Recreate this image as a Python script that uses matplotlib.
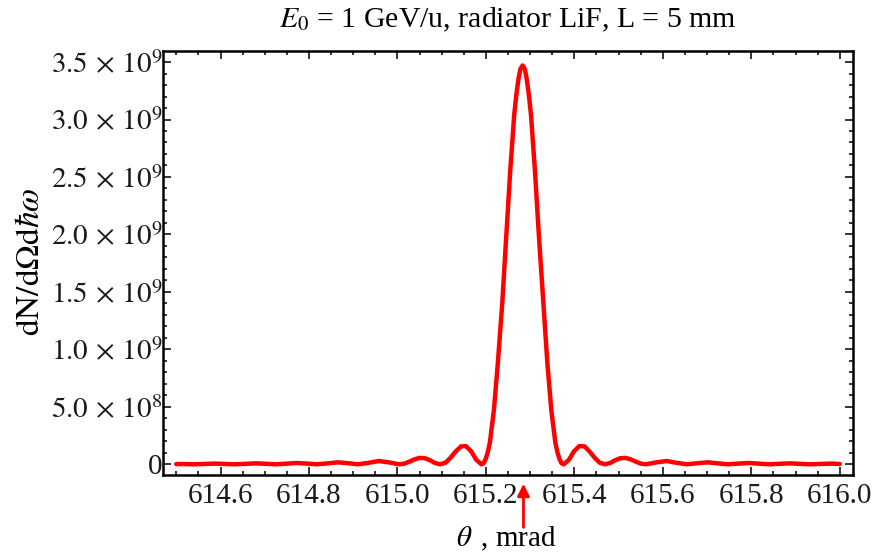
import matplotlib
matplotlib.use("Agg")
import matplotlib.pyplot as plt
from matplotlib.ticker import MultipleLocator, FixedLocator, FixedFormatter

plt.rcParams['font.family'] = ['Liberation Serif', 'DejaVu Serif']
plt.rcParams['mathtext.fontset'] = 'stix'

# угол излучения, mrad
theta = [
    614.500, 614.516, 614.539, 614.562, 614.586, 614.609, 614.632, 614.655,
    614.679, 614.702, 614.725, 614.748, 614.772, 614.795, 614.818, 614.841,
    614.865, 614.888, 614.911, 614.934, 614.958, 614.981, 615.004, 615.016,
    615.027, 615.039, 615.050, 615.062, 615.074, 615.085, 615.097, 615.109,
    615.120, 615.132, 615.144, 615.155, 615.167, 615.178, 615.190, 615.195,
    615.199, 615.204, 615.209, 615.213, 615.218, 615.227, 615.237, 615.246,
    615.255, 615.264, 615.269, 615.274, 615.278, 615.283, 615.288, 615.292,
    615.297, 615.302, 615.311, 615.320, 615.330, 615.339, 615.348, 615.353,
    615.357, 615.362, 615.367, 615.371, 615.376, 615.388, 615.399, 615.411,
    615.423, 615.434, 615.446, 615.457, 615.469, 615.481, 615.492, 615.504,
    615.516, 615.527, 615.539, 615.550, 615.562, 615.585, 615.609, 615.632,
    615.655, 615.678, 615.702, 615.725, 615.748, 615.771, 615.795, 615.818,
    615.841, 615.864, 615.888, 615.911, 615.934, 615.957, 615.981, 616.000,
]

# dN/dΩdħω, в единицах 1e9
intensity = [
    0.002, 0.0026, 0.0, 0.0029, 0.0062, 0.0033, 0.0, 0.0038,
    0.0083, 0.0045, 0.0, 0.0053, 0.0116, 0.0064, 0.0, 0.0078,
    0.0173, 0.0097, 0.0, 0.0125, 0.0286, 0.0166, 0.0, 0.0062,
    0.0232, 0.0434, 0.056, 0.053, 0.0346, 0.0114, 0.0, 0.0146,
    0.057, 0.113, 0.156, 0.158, 0.112, 0.0406, 0.0, 0.0095,
    0.041, 0.100, 0.189, 0.313, 0.468, 0.88, 1.40, 1.98,
    2.55, 3.04, 3.22, 3.36, 3.44, 3.47, 3.44, 3.36,
    3.22, 3.04, 2.55, 1.98, 1.40, 0.88, 0.468, 0.313,
    0.189, 0.100, 0.041, 0.0095, 0.0, 0.0406, 0.112, 0.158,
    0.156, 0.113, 0.057, 0.0146, 0.0, 0.0114, 0.0346, 0.053,
    0.056, 0.0434, 0.0232, 0.0062, 0.0, 0.0166, 0.0286, 0.0125,
    0.0, 0.0097, 0.0173, 0.0078, 0.0, 0.0064, 0.0116, 0.0053,
    0.0, 0.0045, 0.0083, 0.0038, 0.0, 0.0033, 0.0062, 0.003,
]

y_ticks = [0, 0.5e9, 1.0e9, 1.5e9, 2.0e9, 2.5e9, 3.0e9, 3.5e9]
y_labels = ['0', r'$5.0\,\times\,10^{8}$', r'$1.0\,\times\,10^{9}$',
            r'$1.5\,\times\,10^{9}$', r'$2.0\,\times\,10^{9}$',
            r'$2.5\,\times\,10^{9}$', r'$3.0\,\times\,10^{9}$',
            r'$3.5\,\times\,10^{9}$']
peak_theta = 615.285

fig = plt.figure(figsize=(8.74, 5.55), dpi=100)
ax = fig.add_axes([163 / 874, 1 - 475 / 555, 690 / 874, 424 / 555])

ax.plot(theta, [v * 1e9 for v in intensity], color='#ff0000', lw=3.2,
        solid_joinstyle='round', solid_capstyle='round')

ax.set_xlim(614.47, 616.03)
ax.set_ylim(-0.093e9, 3.596e9)

ax.xaxis.set_major_locator(MultipleLocator(0.2))
ax.xaxis.set_minor_locator(MultipleLocator(0.05))
ax.xaxis.set_major_formatter(plt.FuncFormatter(lambda v, p: f'{v:.1f}'))
ax.yaxis.set_major_locator(FixedLocator(y_ticks))
ax.yaxis.set_major_formatter(FixedFormatter(y_labels))
ax.yaxis.set_minor_locator(MultipleLocator(1e8))

ax.tick_params(which='both', direction='in', top=True, right=True,
               labelsize=21, labelcolor='#1a1a1a', width=1.1)
ax.tick_params(which='major', length=5.5)
ax.tick_params(which='minor', length=3)
ax.tick_params(axis='x', pad=6)
ax.tick_params(axis='y', pad=0.5)
for sp in ax.spines.values():
    sp.set_linewidth(1.8)

# подписи
fig.text(508 / 874, 1 - 20 / 555, r'$E_0$ = 1 GeV/u, radiator LiF, L = 5 mm',
         fontsize=21.5, ha='center', va='center')
fig.text(506 / 874, 1 - 539 / 555, r'$\theta\,$ , mrad', fontsize=21,
         ha='center', va='center')
fig.text(31 / 874, 1 - 262 / 555, r'$\mathrm{dN/d\Omega d}\hbar\omega$',
         fontsize=24, ha='center', va='center', rotation=90)

# стрелка у положения максимума
ax.annotate('', xy=(peak_theta, -0.014), xycoords=('data', 'axes fraction'),
            xytext=(peak_theta, -0.13), textcoords=('data', 'axes fraction'),
            arrowprops=dict(arrowstyle='-|>', color='#ff0000', lw=2,
                            mutation_scale=18), annotation_clip=False)

fig.savefig('out.png', dpi=100)
